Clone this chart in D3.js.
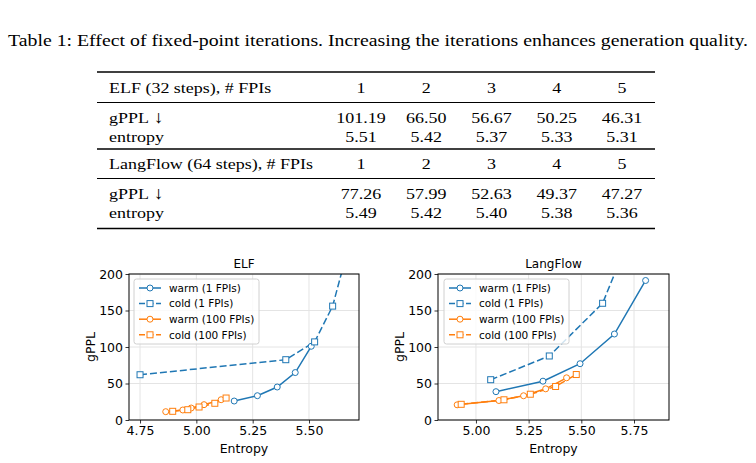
<!DOCTYPE html>
<html>
<head>
<meta charset="utf-8">
<script src="https://cdn.jsdelivr.net/npm/d3@7"></script>
<style>
  body { margin: 0; background: #fff; }
  svg { display: block; }
</style>
</head>
<body>
<svg id="fig" width="756" height="463"></svg>
<script>
// ---- table values ----
const caption = "Table 1: Effect of fixed-point iterations. Increasing the iterations enhances generation quality.";
const fpis = [ "1", "2", "3", "4", "5" ];
const elfGppl = [ "101.19", "66.50", "56.67", "50.25", "46.31" ];
const elfEntropy = [ "5.51", "5.42", "5.37", "5.33", "5.31" ];
const lfGppl = [ "77.26", "57.99", "52.63", "49.37", "47.27" ];
const lfEntropy = [ "5.49", "5.42", "5.40", "5.38", "5.36" ];

// ---- chart values (entropy, gPPL) ----
const elfWarm1 = [ [ 5.168, 26 ], [ 5.271, 33.3 ], [ 5.359, 45.2 ], [ 5.439, 65 ], [ 5.51, 101 ] ];
const elfCold1 = [ [ 4.75, 62 ], [ 5.397, 82.6 ], [ 5.525, 107 ], [ 5.605, 156 ], [ 5.683, 246 ] ];
const elfWarm100 = [ [ 4.864, 11.4 ], [ 4.94, 13.7 ], [ 4.977, 16.4 ], [ 5.034, 21 ], [ 5.11, 27.8 ] ];
const elfCold100 = [ [ 4.895, 11.9 ], [ 4.962, 14.1 ], [ 5.012, 17.8 ], [ 5.082, 22.9 ], [ 5.132, 30.1 ] ];

const lfWarm1 = [ [ 5.095, 38.8 ], [ 5.318, 53.2 ], [ 5.494, 77.1 ], [ 5.657, 117.8 ], [ 5.805, 191.1 ] ];
const lfCold1 = [ [ 5.07, 55.2 ], [ 5.348, 87.7 ], [ 5.601, 159.9 ], [ 5.70, 230 ] ];
const lfWarm100 = [ [ 4.911, 20.8 ], [ 5.109, 26.7 ], [ 5.226, 33.2 ], [ 5.331, 42.7 ], [ 5.43, 57.8 ] ];
const lfCold100 = [ [ 4.93, 21.5 ], [ 5.133, 27.7 ], [ 5.258, 35.3 ], [ 5.378, 45.9 ], [ 5.476, 62.3 ] ];

const seriesNames = [ "warm (1 FPIs)", "cold (1 FPIs)", "warm (100 FPIs)", "cold (100 FPIs)" ];
const yTicks = [ 0, 50, 100, 150, 200 ];
const elfXTicks = [ 4.75, 5.0, 5.25, 5.5 ];
const lfXTicks = [ 5.0, 5.25, 5.5, 5.75 ];

const BLUE = "#1f77b4";
const ORANGE = "#ff7f0e";
const SERIF = "'Liberation Serif', 'Times New Roman', serif";
const SANS = "'DejaVu Sans', sans-serif";

const svg = d3.select( "#fig" );
svg.append( "rect" ).attr( "width", 756 ).attr( "height", 463 ).attr( "fill", "#fff" );

// ---------- table ----------
// the page text is a bit wider than tall, so the serif text gets a horizontal stretch
const SX = 1.16;
const TFONT = "15.5px";

svg.append( "text" )
  .attr( "x", 8 ).attr( "y", 45.5 )
  .attr( "textLength", 740 ).attr( "lengthAdjust", "spacingAndGlyphs" )
  .style( "font-family", SERIF ).style( "font-size", "16.5px" )
  .text( caption );

const TABLE = { left: 97, right: 655, labelX: 109 };
const colX = d3.scalePoint().domain( d3.range( 5 ) ).range( [ 361, 622 ] );

const rules = [
  { y: 72, w: 1.5 },
  { y: 102.5, w: 1 },
  { y: 149, w: 1.5 },
  { y: 178.5, w: 1 },
  { y: 228.5, w: 1.5 },
];
svg.selectAll( "line.rule" )
  .data( rules )
  .enter()
  .append( "line" )
  .attr( "class", "rule" )
  .attr( "x1", TABLE.left ).attr( "x2", TABLE.right )
  .attr( "y1", d => d.y ).attr( "y2", d => d.y )
  .attr( "stroke", "#000" )
  .attr( "stroke-width", d => d.w );

const rows = [
  { label: "ELF (32 steps), # FPIs", vals: fpis, y: 87 },
  { label: "gPPL", arrow: true, vals: elfGppl, y: 117.5 },
  { label: "entropy", vals: elfEntropy, y: 136.5 },
  { label: "LangFlow (64 steps), # FPIs", vals: fpis, y: 163.5 },
  { label: "gPPL", arrow: true, vals: lfGppl, y: 193.5 },
  { label: "entropy", vals: lfEntropy, y: 212.5 },
];
rows.forEach( r => {
  const g = svg.append( "g" )
    .style( "font-family", SERIF ).style( "font-size", TFONT );
  const base = r.y + 5.5;
  const lbl = g.append( "text" )
    .attr( "transform", `translate(${TABLE.labelX},${base}) scale(${SX},1)` )
    .text( r.label );
  if ( r.arrow )
    lbl.append( "tspan" ).attr( "dx", 4 ).style( "font-size", "17.5px" ).text( "↓" );
  g.selectAll( "text.v" )
    .data( r.vals )
    .enter()
    .append( "text" )
    .attr( "class", "v" )
    .attr( "transform", ( d, i ) => `translate(${colX( i )},${base}) scale(${SX},1)` )
    .attr( "text-anchor", "middle" )
    .text( d => d );
} );

// ---------- charts ----------
const drawPanel = ( opts ) => {
  const { id, title, left, right, xDomain, xTicks, series, legendX } = opts;
  const top = 274;
  const bottom = 420;

  const x = d3.scaleLinear().domain( xDomain ).range( [ left, right ] );
  const y = d3.scaleLinear().domain( [ 0, 200 ] ).range( [ bottom, top ] );

  const g = svg.append( "g" ).style( "font-family", SANS );

  svg.append( "clipPath" ).attr( "id", `clip-${id}` )
    .append( "rect" )
    .attr( "x", left ).attr( "y", top )
    .attr( "width", right - left ).attr( "height", bottom - top );

  // grid
  g.append( "g" )
    .selectAll( "line" )
    .data( xTicks )
    .enter()
    .append( "line" )
    .attr( "x1", d => x( d ) ).attr( "x2", d => x( d ) )
    .attr( "y1", top ).attr( "y2", bottom )
    .attr( "stroke", "#e4e4e4" ).attr( "stroke-width", 1 );
  g.append( "g" )
    .selectAll( "line" )
    .data( yTicks )
    .enter()
    .append( "line" )
    .attr( "x1", left ).attr( "x2", right )
    .attr( "y1", d => y( d ) ).attr( "y2", d => y( d ) )
    .attr( "stroke", "#e4e4e4" ).attr( "stroke-width", 1 );

  // series
  const line = d3.line().x( d => x( d[0] ) ).y( d => y( d[1] ) );
  const plot = g.append( "g" ).attr( "clip-path", `url(#clip-${id})` );

  series.forEach( s => {
    plot.append( "path" )
      .datum( s.data )
      .attr( "d", line )
      .attr( "fill", "none" )
      .attr( "stroke", s.color )
      .attr( "stroke-width", 1.5 )
      .attr( "stroke-dasharray", s.dashed ? "7,3" : null );
  } );
  series.forEach( s => {
    const m = plot.append( "g" );
    if ( s.marker === "circle" ) {
      m.selectAll( "circle" )
        .data( s.data )
        .enter()
        .append( "circle" )
        .attr( "cx", d => x( d[0] ) )
        .attr( "cy", d => y( d[1] ) )
        .attr( "r", 3 )
        .attr( "fill", "#fff" )
        .attr( "stroke", s.color )
        .attr( "stroke-width", 1 );
    } else {
      m.selectAll( "rect" )
        .data( s.data )
        .enter()
        .append( "rect" )
        .attr( "x", d => x( d[0] ) - 3 )
        .attr( "y", d => y( d[1] ) - 3 )
        .attr( "width", 6 ).attr( "height", 6 )
        .attr( "fill", "#fff" )
        .attr( "stroke", s.color )
        .attr( "stroke-width", 1 );
    }
  } );

  // axes
  const xAxis = d3.axisBottom( x ).tickValues( xTicks ).tickSize( 3.5 ).tickPadding( 2.5 )
    .tickFormat( d3.format( ".2f" ) );
  const yAxis = d3.axisLeft( y ).tickValues( yTicks ).tickSize( 3.5 ).tickPadding( 2.5 )
    .tickFormat( d3.format( "d" ) );

  const xa = g.append( "g" ).attr( "transform", `translate(0,${bottom})` ).call( xAxis );
  const ya = g.append( "g" ).attr( "transform", `translate(${left},0)` ).call( yAxis );
  [ xa, ya ].forEach( a => {
    a.select( ".domain" ).remove();
    a.selectAll( "text" ).style( "font-family", SANS ).style( "font-size", "12.5px" ).attr( "fill", "#000" );
    a.selectAll( "line" ).attr( "stroke", "#000" ).attr( "stroke-width", 0.8 );
  } );

  g.append( "rect" )
    .attr( "x", left ).attr( "y", top )
    .attr( "width", right - left ).attr( "height", bottom - top )
    .attr( "fill", "none" ).attr( "stroke", "#000" ).attr( "stroke-width", 1 );

  g.append( "text" )
    .attr( "x", ( left + right ) / 2 ).attr( "y", 268 )
    .attr( "text-anchor", "middle" )
    .style( "font-size", "12px" )
    .text( title );
  g.append( "text" )
    .attr( "x", ( left + right ) / 2 ).attr( "y", 453 )
    .attr( "text-anchor", "middle" )
    .style( "font-size", "12.5px" )
    .text( "Entropy" );
  g.append( "text" )
    .attr( "transform", `translate(${left - 34},${( top + bottom ) / 2}) rotate(-90)` )
    .attr( "text-anchor", "middle" )
    .style( "font-size", "12.5px" )
    .text( "gPPL" );

  // legend
  const lg = g.append( "g" ).attr( "transform", `translate(${legendX},279)` );
  lg.append( "rect" )
    .attr( "width", 125 ).attr( "height", 65 )
    .attr( "rx", 2.5 )
    .attr( "fill", "#fff" ).attr( "fill-opacity", 0.8 )
    .attr( "stroke", "#d0d0d0" ).attr( "stroke-width", 1 );
  series.forEach( ( s, i ) => {
    const ly = 9 + i * 15.6;
    lg.append( "line" )
      .attr( "x1", 5 ).attr( "x2", 27 )
      .attr( "y1", ly ).attr( "y2", ly )
      .attr( "stroke", s.color ).attr( "stroke-width", 1.5 )
      .attr( "stroke-dasharray", s.dashed ? "6,2.5" : null );
    if ( s.marker === "circle" )
      lg.append( "circle" ).attr( "cx", 16 ).attr( "cy", ly ).attr( "r", 3 )
        .attr( "fill", "#fff" ).attr( "stroke", s.color );
    else
      lg.append( "rect" ).attr( "x", 13 ).attr( "y", ly - 3 ).attr( "width", 6 ).attr( "height", 6 )
        .attr( "fill", "#fff" ).attr( "stroke", s.color );
    lg.append( "text" )
      .attr( "x", 35 ).attr( "y", ly + 3.8 )
      .style( "font-size", "10.5px" )
      .text( s.name );
  } );
};

const mkSeries = ( w1, c1, w100, c100 ) => [
  { name: seriesNames[0], data: w1, color: BLUE, marker: "circle", dashed: false },
  { name: seriesNames[1], data: c1, color: BLUE, marker: "square", dashed: true },
  { name: seriesNames[2], data: w100, color: ORANGE, marker: "circle", dashed: false },
  { name: seriesNames[3], data: c100, color: ORANGE, marker: "square", dashed: true },
];

drawPanel( {
  id: "elf",
  title: "ELF",
  left: 129,
  right: 359,
  xDomain: [ 4.701, 5.722 ],
  xTicks: elfXTicks,
  series: mkSeries( elfWarm1, elfCold1, elfWarm100, elfCold100 ),
  legendX: 134,
} );

drawPanel( {
  id: "lf",
  title: "LangFlow",
  left: 438,
  right: 669,
  xDomain: [ 4.82, 5.916 ],
  xTicks: lfXTicks,
  series: mkSeries( lfWarm1, lfCold1, lfWarm100, lfCold100 ),
  legendX: 444,
} );
</script>
</body>
</html>
